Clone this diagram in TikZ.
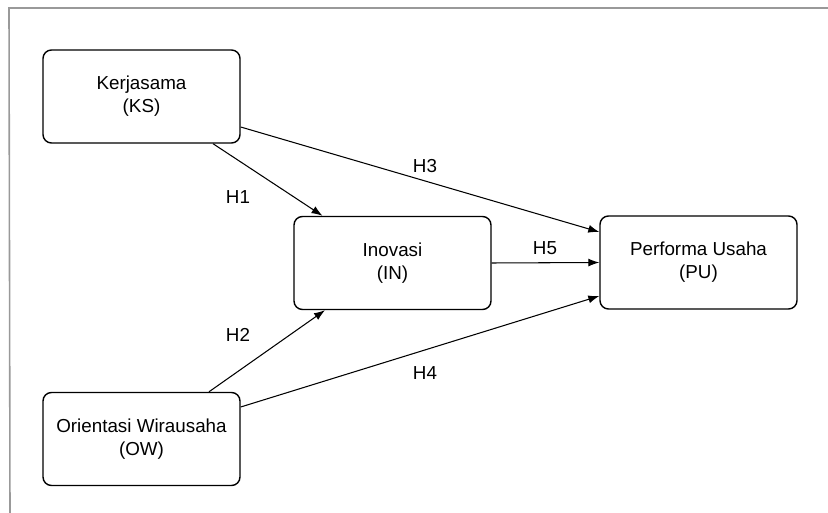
\documentclass[tikz,border=0pt]{standalone}
\usepackage{fontspec}
\setmainfont{Liberation Sans}
\usepackage{tikz}
\usetikzlibrary{arrows.meta}

\begin{document}
\begin{tikzpicture}[>={Latex[length=2.2mm, width=1.6mm]},
    varbox/.style={draw, line width=0.8pt, rounded corners=0.17cm, minimum width=3.94cm,
        minimum height=1.86cm, align=center, font=\fontsize{10.7}{13.2}\selectfont},
    hyp/.style={font=\fontsize{10.7}{13.2}\selectfont},
    path/.style={->, line width=0.6pt}]
    \useasboundingbox (0,0) rectangle (16.56,-10.26);
    \draw[gray!80, line width=0.9pt] (16.56,-0.16)--(0.18,-0.16)--(0.2,-10.26);
    \node[varbox] (ks) at (2.83,-1.93) {Kerjasama\\(KS)};
    \node[varbox] (inv) at (7.85,-5.26) {Inovasi\\(IN)};
    \node[varbox] (pu) at (13.97,-5.25) {Performa Usaha\\(PU)};
    \node[varbox] (ow) at (2.83,-8.78) {Orientasi Wirausaha\\(OW)};
    \draw[path] ([xshift=1.43cm]ks.south)--([xshift=-1.4cm]inv.north);
    \draw[path] ([yshift=-0.61cm]ks.east)--([yshift=0.61cm]pu.west);
    \draw[path] (inv.east)--(pu.west);
    \draw[path] ([xshift=1.35cm]ow.north)--([xshift=-1.35cm]inv.south);
    \draw[path] ([yshift=0.64cm]ow.east)--([yshift=-0.67cm]pu.west);
    \node[hyp] (h1) at (4.76,-3.94) {H1};
    \node[hyp] (h3) at (8.5,-3.32) {H3};
    \node[hyp] (h5) at (10.9,-4.96) {H5};
    \node[hyp] (h2) at (4.76,-6.7) {H2};
    \node[hyp] (h4) at (8.5,-7.46) {H4};
\end{tikzpicture}
\end{document}
